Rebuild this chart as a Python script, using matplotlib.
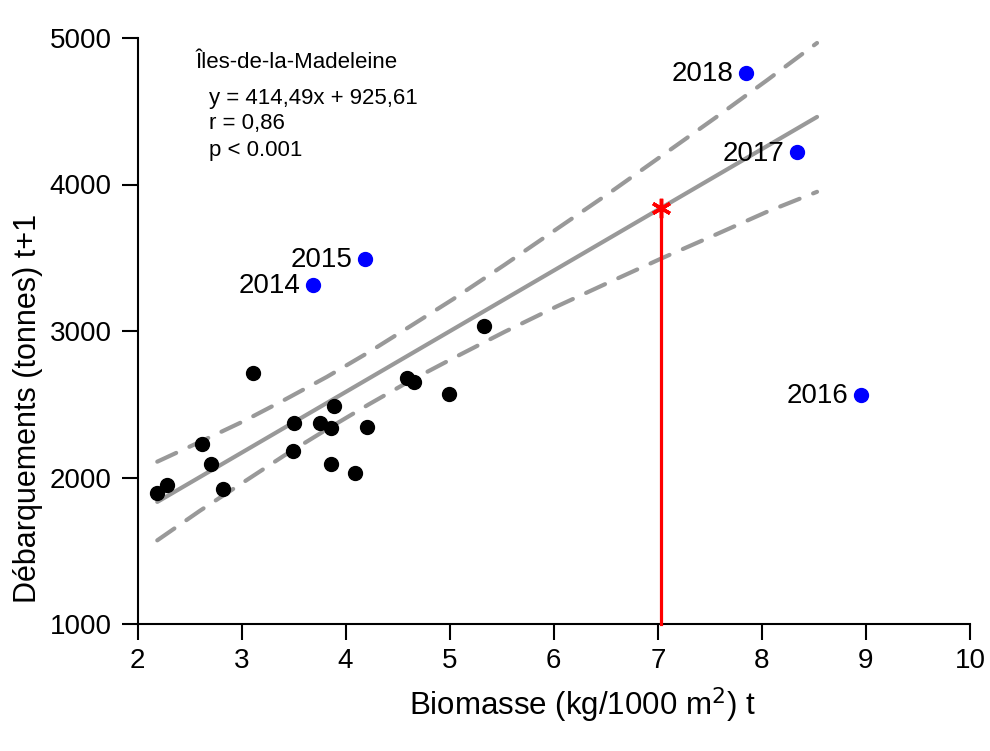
import matplotlib.pyplot as plt
import numpy as np

plt.rcParams['font.family'] = ['Liberation Sans', 'DejaVu Sans']

# Observations (black) : biomasse t, debarquements t+1
bio = [2.19, 2.28, 2.62, 2.71, 2.82, 3.11, 3.50, 3.49, 3.75, 3.86,
       3.89, 3.86, 4.09, 4.21, 4.59, 4.66, 4.99, 5.33]
deb = [1894, 1949, 2229, 2090, 1921, 2715, 2374, 2181, 2374, 2340,
       2488, 2092, 2029, 2347, 2677, 2654, 2570, 3036]

# Recent years (blue)
years = ["2014", "2015", "2016", "2017", "2018"]
bio_yr = [3.69, 4.19, 8.95, 8.34, 7.85]
deb_yr = [3314, 3491, 2563, 4220, 4761]

# Regression
slope, intercept = 414.49, 925.61
fit_x = np.array([2.19, 8.53])

# Confidence band
band_x = [2.19, 2.60, 3.01, 3.41, 3.82, 4.22, 4.62, 5.03, 5.53, 6.03, 6.54, 7.04, 7.55, 8.05, 8.53]
band_hi = [2108, 2243, 2381, 2529, 2687, 2854, 3032, 3216, 3453, 3697, 3945, 4197, 4454, 4712, 4966]
band_lo = [1571, 1773, 1964, 2150, 2329, 2498, 2660, 2813, 2995, 3168, 3335, 3497, 3656, 3814, 3950]

# Prediction
pred_x = 7.03
pred_y = slope * pred_x + intercept

fig = plt.figure(figsize=(9.9, 7.51), dpi=100)
ax = fig.add_axes([137.5 / 990, 1 - 624 / 751, (970 - 137.5) / 990, (624 - 38) / 751])

grey = "#999999"
ax.plot(fit_x, slope * fit_x + intercept, color=grey, lw=3, solid_capstyle="round", zorder=2)
for band in (band_hi, band_lo):
    ax.plot(band_x, band, color=grey, lw=3, dashes=(5, 3.5), dash_capstyle="round", zorder=2)

ax.plot(bio, deb, "o", color="black", markersize=10, zorder=3)
ax.plot(bio_yr, deb_yr, "o", color="blue", markersize=10, zorder=3)
for yr, x, y in zip(years, bio_yr, deb_yr):
    ax.annotate(yr, (x, y), xytext=(-9, -1), textcoords="offset points",
                ha="right", va="center", fontsize=20)

ax.plot([pred_x, pred_x], [1000, pred_y], color="red", lw=2.3, zorder=4, clip_on=False)
ax.plot(pred_x, pred_y, marker=(6, 2, 0), color="red", markersize=14, mew=2.5, zorder=5)

ax.text(2.56, 4836, "Îles-de-la-Madeleine", fontsize=16, va="center")
ax.text(2.69, 4590, "y = 414,49x + 925,61", fontsize=16, va="center")
ax.text(2.69, 4415, "r = 0,86", fontsize=16, va="center")
ax.text(2.69, 4235, "p < 0.001", fontsize=16, va="center")

ax.set_xlim(2, 10)
ax.set_ylim(1000, 5000)
ax.set_xticks(range(2, 11))
ax.set_yticks(range(1000, 5001, 1000))
for s in ("top", "right"):
    ax.spines[s].set_visible(False)
for s in ("left", "bottom"):
    ax.spines[s].set_linewidth(1.5)
ax.tick_params(length=11.5, width=1.5, labelsize=20)
ax.tick_params(axis="y", pad=7)
ax.tick_params(axis="x", pad=6)

ax.set_xlabel("Biomasse (kg/1000 m$^2$) t", fontsize=22.5, va="center")
ax.set_ylabel("Débarquements (tonnes) t+1", fontsize=22, va="center")
ax.xaxis.set_label_coords(0.535, -0.138)
ax.yaxis.set_label_coords(-0.1315, 0.3686)

fig.savefig("out.png", dpi=100)
